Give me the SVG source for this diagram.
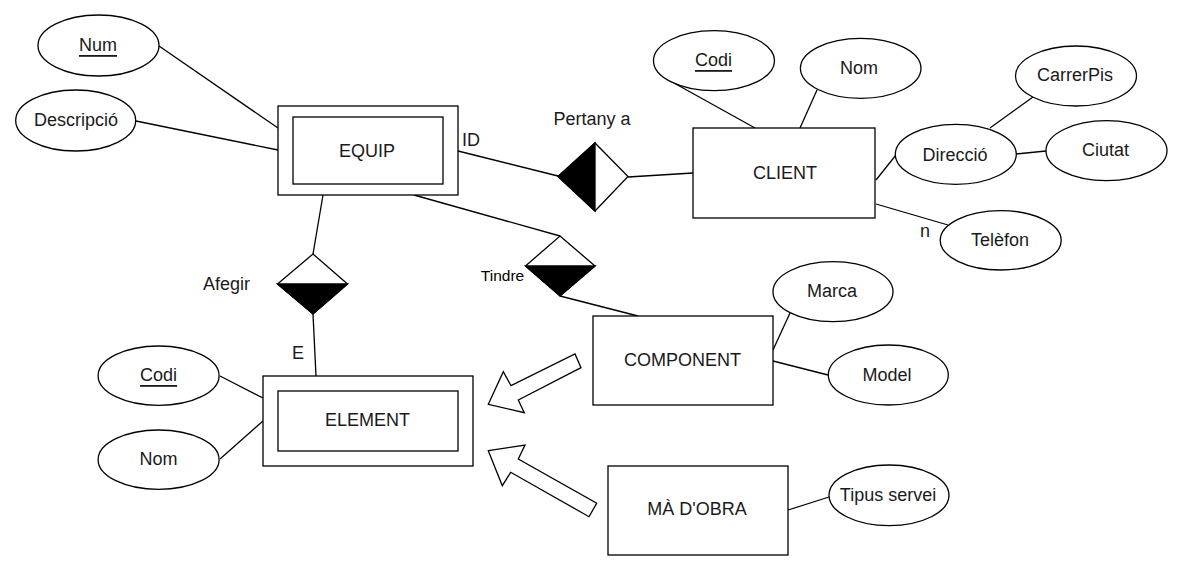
<svg xmlns="http://www.w3.org/2000/svg" width="1179" height="572" viewBox="0 0 1179 572">
<style>
.s{fill:#fff;stroke:#000;stroke-width:1.3}
.b{fill:#000;stroke:#000;stroke-width:1.3}
.l{fill:none;stroke:#000;stroke-width:1.3}
text{font-family:"Liberation Sans",Arial,sans-serif;font-size:18px;fill:#1a1a1a;text-anchor:middle;dominant-baseline:central}
.u{text-decoration:underline}
.sm{font-size:15.5px;fill:#000}
</style>
<rect x="0" y="0" width="1179" height="572" fill="#fff"/>
<g id="connectors">
<line class="l" x1="159" y1="46" x2="278" y2="128"/>
<line class="l" x1="136" y1="121" x2="278" y2="150"/>
<line class="l" x1="458" y1="151" x2="558" y2="176"/>
<line class="l" x1="628" y1="177" x2="693" y2="173"/>
<line class="l" x1="674" y1="83" x2="755" y2="128"/>
<line class="l" x1="817" y1="90" x2="800" y2="128"/>
<line class="l" x1="876" y1="180" x2="896" y2="155"/>
<line class="l" x1="990" y1="128" x2="1033" y2="97"/>
<line class="l" x1="1016" y1="154" x2="1046" y2="151"/>
<line class="l" x1="876" y1="204" x2="948" y2="225"/>
<line class="l" x1="323" y1="195" x2="313" y2="254"/>
<line class="l" x1="313" y1="314" x2="316" y2="376"/>
<line class="l" x1="414" y1="195" x2="560" y2="236"/>
<line class="l" x1="560" y1="296" x2="638" y2="316"/>
<line class="l" x1="220" y1="376" x2="263" y2="398"/>
<line class="l" x1="220" y1="459" x2="263" y2="421"/>
<line class="l" x1="773" y1="350" x2="790" y2="313"/>
<line class="l" x1="773" y1="361" x2="828" y2="375"/>
<line class="l" x1="788" y1="510" x2="829" y2="497"/>
<polygon class="s" points="488.3,404.3 503.3,371.7 511,385.7 575,354 581,367.7 518.3,400 524.3,412.7"/>
<polygon class="s" points="488.3,450.7 525,445 518.3,459 596.7,503.3 589,516.7 510.7,472.3 502.3,485.7"/>
<text x="471" y="140">ID</text>
<text x="298" y="353">E</text>
<text x="925" y="231">n</text>
</g>
<g id="equip">
<rect class="s" x="278" y="106" width="180" height="89"/>
<rect class="s" x="293" y="117" width="150" height="67"/>
<text x="367" y="151">EQUIP</text>
</g>
<g id="num">
<ellipse class="s" cx="98.5" cy="45.5" rx="60.5" ry="30.5"/>
<text class="u" x="98" y="45">Num</text>
</g>
<g id="descripcio">
<ellipse class="s" cx="75.7" cy="120.5" rx="60" ry="30.5"/>
<text x="76" y="120">Descripció</text>
</g>
<g id="pertany">
<polygon class="s" points="558,176.5 595,143 628,176.5 595,211"/>
<polygon class="b" points="558,176.5 595,143 595,211"/>
<text x="592" y="119">Pertany a</text>
</g>
<g id="client">
<rect class="s" x="693" y="128" width="182" height="90"/>
<text x="785" y="173">CLIENT</text>
</g>
<g id="codi-client">
<ellipse class="s" cx="714" cy="60.7" rx="60.5" ry="30"/>
<text class="u" x="713.5" y="60">Codi</text>
</g>
<g id="nom-client">
<ellipse class="s" cx="860.7" cy="68.3" rx="60.3" ry="30"/>
<text x="859" y="68">Nom</text>
</g>
<g id="carrerpis">
<ellipse class="s" cx="1076" cy="76" rx="60.5" ry="30"/>
<text x="1075" y="75">CarrerPis</text>
</g>
<g id="direccio">
<ellipse class="s" cx="955.8" cy="154.3" rx="60.5" ry="30"/>
<text x="955" y="155">Direcció</text>
</g>
<g id="ciutat">
<ellipse class="s" cx="1106.5" cy="150.7" rx="60.5" ry="30"/>
<text x="1105.5" y="150">Ciutat</text>
</g>
<g id="telefon">
<ellipse class="s" cx="1000.7" cy="240.3" rx="60.5" ry="29.7"/>
<text x="1000" y="240">Telèfon</text>
</g>
<g id="afegir">
<polygon class="s" points="313,254 347.5,284 313,314 277.5,284"/>
<polygon class="b" points="277.5,284 347.5,284 313,314"/>
<text x="226.5" y="284">Afegir</text>
</g>
<g id="tindre">
<polygon class="s" points="560,236 595,266 560,296 525.5,266"/>
<polygon class="b" points="525.5,266 595,266 560,296"/>
<text class="sm" x="502.5" y="275">Tindre</text>
</g>
<g id="element">
<rect class="s" x="263" y="376" width="210" height="90"/>
<rect class="s" x="278" y="391" width="180" height="60"/>
<text x="367.5" y="420">ELEMENT</text>
</g>
<g id="codi-element">
<ellipse class="s" cx="158.6" cy="375.7" rx="60.5" ry="29.7"/>
<text class="u" x="158.6" y="375">Codi</text>
</g>
<g id="nom-element">
<ellipse class="s" cx="158.6" cy="459.7" rx="60.5" ry="29.7"/>
<text x="158.6" y="459">Nom</text>
</g>
<g id="component">
<rect class="s" x="593" y="316" width="180" height="89"/>
<text x="682.5" y="360">COMPONENT</text>
</g>
<g id="marca">
<ellipse class="s" cx="833" cy="291.7" rx="60" ry="30"/>
<text x="832" y="291">Marca</text>
</g>
<g id="model">
<ellipse class="s" cx="888.3" cy="375" rx="60" ry="30"/>
<text x="887" y="375">Model</text>
</g>
<g id="ma-obra">
<rect class="s" x="608" y="466" width="180" height="89"/>
<text x="697" y="509">MÀ D'OBRA</text>
</g>
<g id="tipus-servei">
<ellipse class="s" cx="889" cy="495.3" rx="60" ry="30.3"/>
<text x="888" y="495">Tipus servei</text>
</g>
</svg>
